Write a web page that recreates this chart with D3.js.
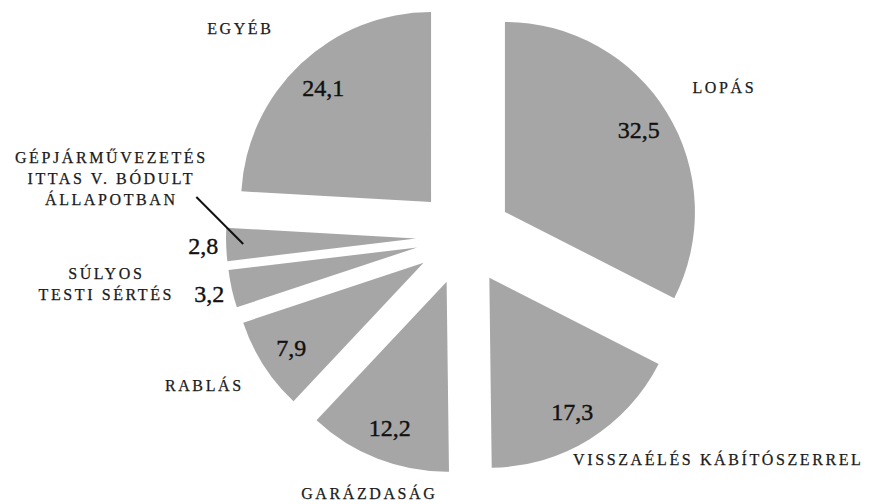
<!DOCTYPE html>
<html>
<head>
<meta charset="utf-8">
<script src="https://cdn.jsdelivr.net/npm/d3@7"></script>
</head>
<body style="margin:0;background:#fff">
<svg id="chart" width="872" height="504" style="display:block"></svg>
<script>
// Share of offences (%), drawn clockwise from 12 o'clock
const categories = [
  "LOPÁS",
  "VISSZAÉLÉS KÁBÍTÓSZERREL",
  "GARÁZDASÁG",
  "RABLÁS",
  "SÚLYOS TESTI SÉRTÉS",
  "GÉPJÁRMŰVEZETÉS ITTAS V. BÓDULT ÁLLAPOTBAN",
  "EGYÉB"
];
const values = [32.5, 17.3, 12.2, 7.9, 3.2, 2.8, 24.1];
const labelLines = [
  ["LOPÁS"],
  ["VISSZAÉLÉS KÁBÍTÓSZERREL"],
  ["GARÁZDASÁG"],
  ["RABLÁS"],
  ["SÚLYOS", "TESTI SÉRTÉS"],
  ["GÉPJÁRMŰVEZETÉS", "ITTAS V. BÓDULT", "ÁLLAPOTBAN"],
  ["EGYÉB"]
];

// Layout
const cx = 464, cy = 237;      // pie centre
const radius = 190;
const explode = 48;            // every slice pulled out along its bisector
const valueR = 157;            // value label distance inside a slice
const valueOutR = 213;         // value label distance for thin slices
const thinLimit = 5;           // slices below this share get outside labels
const lineH = 21;
const spacing = 2.6;
const serifFace = '"Liberation Serif"';

// Category label anchors: block centre x, first baseline y
const labelPlace = {
  "LOPÁS": [723, 93],
  "VISSZAÉLÉS KÁBÍTÓSZERREL": [717, 465],
  "GARÁZDASÁG": [368, 499],
  "RABLÁS": [203, 391],
  "SÚLYOS TESTI SÉRTÉS": [105, 279],
  "GÉPJÁRMŰVEZETÉS ITTAS V. BÓDULT ÁLLAPOTBAN": [110, 163],
  "EGYÉB": [239, 34]
};
// Leader line from a label block to its slice
const leaders = ["GÉPJÁRMŰVEZETÉS ITTAS V. BÓDULT ÁLLAPOTBAN"];

const rows = categories.map((c, i) => ({ cat: c, value: values[i], lines: labelLines[i] }));

const fmt = d3.formatLocale({ decimal: ",", thousands: " ", grouping: [3], currency: ["", ""] }).format(".1f");

const svg = d3.select("#chart");
const g = svg.append("g").attr("transform", `translate(${cx},${cy})`);

const pie = d3.pie().sort(null).value(d => d.value).startAngle(0).endAngle(2 * Math.PI);
const arc = d3.arc().innerRadius(0).outerRadius(radius);
const arcs = pie(rows);

arcs.forEach(d => {
  d.mid = (d.startAngle + d.endAngle) / 2;
  d.ux = Math.sin(d.mid);
  d.uy = -Math.cos(d.mid);
  d.ox = d.ux * explode;
  d.oy = d.uy * explode;
});

const slice = g.selectAll("g.slice").data(arcs).join("g")
  .attr("class", "slice")
  .attr("transform", d => `translate(${d.ox},${d.oy})`);

slice.append("path")
  .attr("d", arc)
  .attr("fill", "#a6a6a6");

// Value labels
slice.append("text")
  .style("font-family", serifFace)
  .style("font-size", "24px")
  .style("fill", "#111")
  .style("stroke", "#111")
  .style("stroke-width", "0.4px")
  .attr("text-anchor", "middle")
  .attr("dy", "0.35em")
  .attr("x", d => d.ux * (d.data.value < thinLimit ? valueOutR : valueR))
  .attr("y", d => d.uy * (d.data.value < thinLimit ? valueOutR : valueR))
  .text(d => fmt(d.data.value));

// Category labels
const cats = svg.selectAll("text.cat").data(rows).join("text")
  .attr("class", "cat")
  .style("font-family", serifFace)
  .style("font-size", "16px")
  .style("letter-spacing", spacing + "px")
  .style("fill", "#1a1a1a")
  .style("stroke", "#1a1a1a")
  .style("stroke-width", "0.25px")
  .attr("text-anchor", "middle")
  .attr("transform", d => `translate(${labelPlace[d.cat][0] + spacing / 2},${labelPlace[d.cat][1]})`);
cats.selectAll("tspan").data(d => d.lines).join("tspan")
  .attr("x", 0)
  .attr("y", (l, i) => i * lineH)
  .text(l => l);

// Leader lines: from the end of the label's last line to inside the slice
arcs.filter(d => leaders.includes(d.data.cat)).forEach(d => {
  const node = cats.filter(r => r.cat === d.data.cat).node();
  const spans = node.querySelectorAll("tspan");
  const last = spans[spans.length - 1];
  const w = last.getComputedTextLength();
  const [lx, ly] = labelPlace[d.data.cat];
  const x1 = lx + w / 2 + 20;
  const y1 = ly + (spans.length - 1) * lineH - 8;
  const t = radius * 0.91;
  const x2 = cx + d.ox + d.ux * t;
  const y2 = cy + d.oy + d.uy * t;
  svg.append("line")
    .attr("x1", x1).attr("y1", y1)
    .attr("x2", x2).attr("y2", y2)
    .attr("stroke", "#111")
    .attr("stroke-width", 2);
});
</script>
</body>
</html>
